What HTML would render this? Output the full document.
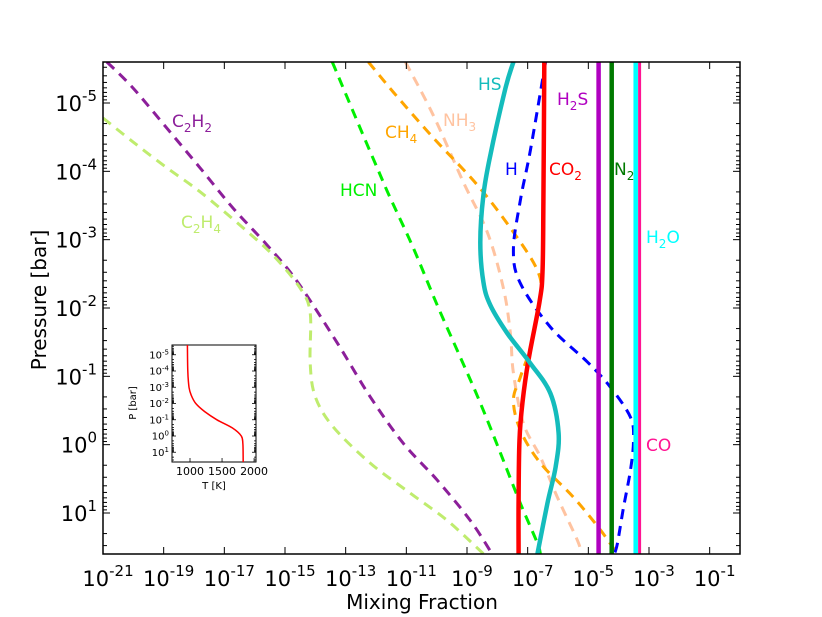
<!DOCTYPE html>
<html><head><meta charset="utf-8"><style>
html,body{margin:0;padding:0;background:#fff;}
svg{display:block;font-family:"DejaVu Sans","Liberation Sans",sans-serif;}
</style></head><body>
<svg id="chart" width="822" height="617" viewBox="0 0 822 617" xmlns="http://www.w3.org/2000/svg">
<g id="main"></g>
<g id="inset"></g>
</svg>
<script>
// ---- data (log10 mixing fraction vs log10 pressure [bar]) ----
const xTickExps = [-21,-19,-17,-15,-13,-11,-9,-7,-5,-3,-1];
const yTickExps = [-5,-4,-3,-2,-1,0,1];
const c2h2P = [-5.6,-5.22,-4.63,-4.05,-3.46,-2.92,-2.39,-1.49,-0.70,-0.02,0.52,1.11,1.6];
const c2h2X = [-20.87,-20.01,-18.89,-17.80,-16.71,-15.59,-14.60,-13.28,-12.19,-11.10,-9.98,-8.89,-8.17];
const c2h4P = [-4.78,-4.43,-4.05,-3.70,-3.21,-2.77,-2.29,-1.93,-1.19,-0.70,-0.26,0.27,0.71,1.11,1.6];
const c2h4X = [-21.0,-20.01,-18.89,-17.80,-16.48,-15.39,-14.50,-14.17,-14.17,-14.00,-13.41,-12.19,-10.87,-9.65,-8.45];
const hcnP = [-5.6,-4.87,-4.05,-3.61,-2.88,-2.04,-1.28,-0.61,0.12,0.86,1.44,1.6];
const hcnX = [-13.44,-12.75,-11.96,-11.53,-10.77,-9.98,-9.22,-8.56,-7.90,-7.24,-6.68,-6.58];
const ch4P = [-5.6,-5.16,-4.49,-3.80,-3.11,-2.55,-2.16,-1.43,-0.99,-0.65,-0.21,0.27,0.77,1.25,1.6];
const ch4X = [-12.25,-11.43,-10.11,-8.66,-7.47,-6.68,-6.58,-6.91,-7.24,-7.47,-7.24,-6.58,-5.49,-4.60,-4.04];
const nh3P = [-5.6,-4.82,-3.84,-3.11,-2.29,-1.63,-1.05,-0.31,0.18,0.77,1.40,1.6];
const nh3X = [-11.03,-10.11,-9.12,-8.33,-7.80,-7.57,-7.47,-7.14,-6.58,-6.02,-5.36,-5.23];
const hsP = [-5.6,-5.22,-4.24,-3.65,-2.96,-2.38,-2.04,-1.63,-1.19,-0.75,-0.17,0.33,0.86,1.6];
const hsX = [-7.47,-7.73,-8.23,-8.46,-8.56,-8.46,-8.23,-7.67,-6.91,-6.25,-5.98,-6.08,-6.35,-6.68];
const hP = [-5.6,-4.31,-3.58,-2.85,-2.36,-1.72,-1.21,-0.84,-0.40,-0.07,0.37,0.92,1.44,1.6];
const hX = [-6.41,-6.91,-7.24,-7.47,-7.24,-6.25,-5.03,-4.27,-3.61,-3.51,-3.61,-3.84,-4.04,-4.14];
const co2P = [-5.6,-3.56,-2.53,-2.09,-1.25,-0.62,-0.07,0.81,1.6];
const co2X = [-6.45,-6.48,-6.51,-6.61,-6.97,-7.17,-7.27,-7.30,-7.30];
const h2sX = [-4.66,-4.66];
const n2X = [-4.23,-4.23];
const h2oX = [-3.44,-3.44];
const coX = [-3.31,-3.31];
const flatP = [-5.6,1.6];
const insetP = [-5.6,-4,-3,-2.5,-2,-1.5,-1,-0.5,0,0.5,1.6];
const insetT = [960,965,985,1020,1090,1230,1420,1660,1800,1825,1830];
const insetXTicks = [1000,1500,2000];

// ---- axes ----
const L=103,R=740,T=62,B=554, XMIN=-21,XMAX=0,PMIN=-5.6,PMAX=1.6;
const xs = v => L + (v-XMIN)/(XMAX-XMIN)*(R-L);
const ys = p => T + (p-PMIN)/(PMAX-PMIN)*(B-T);
const NS="http://www.w3.org/2000/svg";
function mk(tag, attrs, parent){const e=document.createElementNS(NS,tag);for(const k in attrs)e.setAttribute(k,attrs[k]);parent.appendChild(e);return e;}
function smoothPath(pts){
  let d="M"+pts[0][0].toFixed(1)+","+pts[0][1].toFixed(1);
  for(let i=0;i<pts.length-1;i++){
    const p0=pts[i-1]||pts[i],p1=pts[i],p2=pts[i+1],p3=pts[i+2]||p2;
    const c1=[p1[0]+(p2[0]-p0[0])/6,p1[1]+(p2[1]-p0[1])/6];
    const c2=[p2[0]-(p3[0]-p1[0])/6,p2[1]-(p3[1]-p1[1])/6];
    d+=" C"+c1[0].toFixed(1)+","+c1[1].toFixed(1)+" "+c2[0].toFixed(1)+","+c2[1].toFixed(1)+" "+p2[0].toFixed(1)+","+p2[1].toFixed(1);
  }
  return d;
}
const main=document.getElementById('main');
mk('clipPath',{id:'clip'},main);
mk('rect',{x:L,y:T,width:R-L,height:B-T},document.getElementById('clip'));
const series=[
 ['c2h2-line',c2h2X,c2h2P,'#8c1f9a',3,'10,7'],
 ['c2h4-line',c2h4X,c2h4P,'#bfec6e',3,'10,7'],
 ['hcn-line',hcnX,hcnP,'#00f000',3,'10,7'],
 ['nh3-line',nh3X,nh3P,'#ffc3a0',3,'10,7'],
 ['ch4-line',ch4X,ch4P,'#ffa500',3,'10,7'],
 ['h-line',hX,hP,'#0000ff',3,'10,7'],
 ['co2-line',co2X,co2P,'#ff0000',4.5,null],
 ['hs-line',hsX,hsP,'#14bcbc',4.5,null],
 ['h2s-line',h2sX,flatP,'#b000c0',4.5,null],
 ['n2-line',n2X,flatP,'#007a00',4.5,null],
 ['h2o-line',h2oX,flatP,'#00ffff',4.5,null],
 ['co-line',coX,flatP,'#ff1493',3,null]
];
const lg=mk('g',{'clip-path':'url(#clip)'},main);
series.forEach(s=>{
  const pts=s[1].map((v,i)=>[xs(v),ys(s[2][i])]);
  const a={d:smoothPath(pts),fill:'none',stroke:s[3],'stroke-width':s[4]};
  if(s[5])a['stroke-dasharray']=s[5];
  const p=mk('path',a,lg);
  
  
});
const fr=mk('rect',{x:L,y:T,width:R-L,height:B-T,fill:'none',stroke:'#000','stroke-width':1.5},main);


xTickExps.forEach(e=>{
  const x=xs(e);
  mk('line',{x1:x,x2:x,y1:B,y2:B-7,stroke:'#000'},main);
  mk('line',{x1:x,x2:x,y1:T,y2:T+7,stroke:'#000'},main);
  const t=mk('text',{x:x+5,y:586,'font-size':21,'text-anchor':'middle'},main);
  
  
  t.innerHTML='10<tspan dy="-10" font-size="15">'+e+'</tspan>';
});
for(let d=-6; d<=1; d++){
  for(let m=1;m<10;m++){
    const p=d+Math.log10(m);
    if(p<PMIN||p>PMAX)continue;
    const len=m===1?7:4;
    const y=ys(p);
    mk('line',{x1:L,x2:L+len,y1:y,y2:y,stroke:'#000'},main);
    mk('line',{x1:R,x2:R-len,y1:y,y2:y,stroke:'#000'},main);
  }
}
yTickExps.forEach(e=>{
  const t=mk('text',{x:97,y:ys(e)+8,'font-size':21,'text-anchor':'end'},main);
  
  
  t.innerHTML='10<tspan dy="-10" font-size="15">'+e+'</tspan>';
});
const xt=mk('text',{x:422,y:609,'font-size':20,'text-anchor':'middle'},main);
xt.textContent='Mixing Fraction';


const yt=mk('text',{x:0,y:0,'font-size':20,'text-anchor':'middle',transform:'translate(46,300) rotate(-90)'},main);
yt.textContent='Pressure [bar]';


const labels=[
 ['label-c2h2','C<tspan dy="5" font-size="12">2</tspan><tspan dy="-5">H</tspan><tspan dy="5" font-size="12">2</tspan>',172,127,'#8c1f9a'],
 ['label-c2h4','C<tspan dy="5" font-size="12">2</tspan><tspan dy="-5">H</tspan><tspan dy="5" font-size="12">4</tspan>',181,228,'#bfec6e'],
 ['label-hcn','HCN',340,196,'#00f000'],
 ['label-ch4','CH<tspan dy="5" font-size="12">4</tspan>',385,138,'#ffa500'],
 ['label-nh3','NH<tspan dy="5" font-size="12">3</tspan>',443,126,'#ffc3a0'],
 ['label-hs','HS',478,90,'#14bcbc'],
 ['label-h','H',505,175,'#0000ff'],
 ['label-co2','CO<tspan dy="5" font-size="12">2</tspan>',549,175,'#ff0000'],
 ['label-h2s','H<tspan dy="5" font-size="12">2</tspan><tspan dy="-5">S</tspan>',557,105,'#b000c0'],
 ['label-n2','N<tspan dy="5" font-size="12">2</tspan>',614,175,'#007a00'],
 ['label-h2o','H<tspan dy="5" font-size="12">2</tspan><tspan dy="-5">O</tspan>',646,243,'#00ffff'],
 ['label-co','CO',646,451,'#ff1493']
];
labels.forEach(l=>{
  const t=mk('text',{x:l[2],y:l[3],'font-size':17,fill:l[4]},main);
  t.innerHTML=l[1];
  
  
});
const inset=document.getElementById('inset');
const iL=172,iR=256,iT=345,iB=462,TMIN=719,TMAX=2030;
const ixs=v=>iL+(v-TMIN)/(TMAX-TMIN)*(iR-iL);
const iys=p=>iT+(p-PMIN)/(PMAX-PMIN)*(iB-iT);
mk('rect',{x:iL,y:iT,width:iR-iL,height:iB-iT,fill:'#fff',stroke:'#000','stroke-width':1},inset);
const ip=mk('path',{d:smoothPath(insetT.map((v,i)=>[ixs(v),iys(insetP[i])])),fill:'none',stroke:'#ff0000','stroke-width':1.5},inset);


for(let d=-6; d<=1; d++){
  for(let m=1;m<10;m++){
    const p=d+Math.log10(m);
    if(p<PMIN||p>PMAX)continue;
    const len=m===1?4:2, y=iys(p);
    mk('line',{x1:iL,x2:iL+len,y1:y,y2:y,stroke:'#000','stroke-width':0.8},inset);
    mk('line',{x1:iR,x2:iR-len,y1:y,y2:y,stroke:'#000','stroke-width':0.8},inset);
  }
}
yTickExps.forEach(e=>{
  const t=mk('text',{x:169,y:iys(e)+3.5,'font-size':10,'text-anchor':'end'},inset);
  t.innerHTML='10<tspan dy="-4" font-size="7">'+e+'</tspan>';
  
  
});
insetXTicks.forEach(v=>{
  const x=ixs(v);
  mk('line',{x1:x,x2:x,y1:iB,y2:iB-4,stroke:'#000','stroke-width':0.8},inset);
  const t=mk('text',{x:x,y:iB+13,'font-size':11,'text-anchor':'middle'},inset);
  t.textContent=v;
  
  
});
const ixt=mk('text',{x:214,y:489,'font-size':10,'text-anchor':'middle'},inset);
ixt.textContent='T [K]';


const iyt=mk('text',{x:0,y:0,'font-size':10,'text-anchor':'middle',transform:'translate(136,403) rotate(-90)'},inset);
iyt.textContent='P [bar]';


</script>
</body></html>
